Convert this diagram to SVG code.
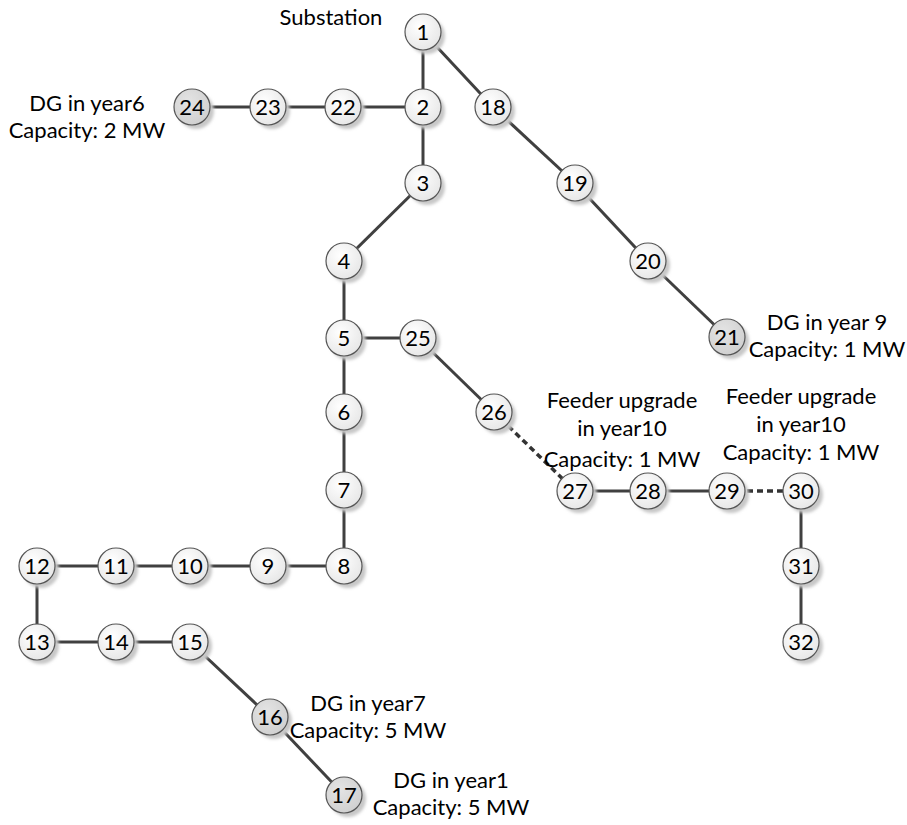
<svg xmlns="http://www.w3.org/2000/svg" width="907" height="825" viewBox="0 0 907 825">
  <defs>
    <radialGradient id="nodeFill" cx="40%" cy="35%" r="70%">
      <stop offset="0" stop-color="#ffffff"/>
      <stop offset="1" stop-color="#e6e6e6"/>
    </radialGradient>
    <radialGradient id="dgFill" cx="40%" cy="35%" r="70%">
      <stop offset="0" stop-color="#e4e4e4"/>
      <stop offset="1" stop-color="#cfcfcf"/>
    </radialGradient>
    <filter id="soft" x="-50%" y="-50%" width="200%" height="200%">
      <feGaussianBlur stdDeviation="1.6"/>
    </filter>
  </defs>
  <style>
    .edge { stroke: #404040; stroke-width: 3; fill: none; }
    .dash { stroke: #333; stroke-width: 3.5; stroke-dasharray: 6 4; }
    .shadow { fill: #c8c8c8; filter: url(#soft); }
    .node { fill: url(#nodeFill); stroke: #555; stroke-width: 1.2; }
    .dg .node { fill: url(#dgFill); }
    .num { font-family: Lato, "Liberation Sans", sans-serif; font-size: 22px; fill: #000; text-anchor: middle; }
    .lbl { font-family: Lato, "Liberation Sans", sans-serif; font-size: 22px; fill: #000; text-anchor: middle; }
  </style>

  <rect width="907" height="825" fill="#ffffff"/>

  <!-- feeder branches; dashed segments are the upgraded feeders -->
  <g id="connectors">
    <line class="edge" x1="423" y1="32" x2="423" y2="107"/>
    <line class="edge" x1="423" y1="32" x2="493" y2="107"/>
    <line class="edge" x1="493" y1="107" x2="575" y2="183"/>
    <line class="edge" x1="575" y1="183" x2="648" y2="261"/>
    <line class="edge" x1="648" y1="261" x2="727" y2="337"/>
    <line class="edge" x1="423" y1="107" x2="192" y2="107"/>
    <line class="edge" x1="423" y1="107" x2="423" y2="183"/>
    <line class="edge" x1="423" y1="183" x2="344" y2="261"/>
    <line class="edge" x1="344" y1="261" x2="344" y2="566"/>
    <line class="edge" x1="344" y1="338" x2="418" y2="338"/>
    <line class="edge" x1="418" y1="338" x2="494" y2="412"/>
    <line class="edge dash" x1="494" y1="412" x2="575" y2="491"/>
    <line class="edge" x1="575" y1="491" x2="727" y2="491"/>
    <line class="edge dash" x1="727" y1="491" x2="801" y2="491"/>
    <line class="edge" x1="801" y1="491" x2="801" y2="642"/>
    <line class="edge" x1="344" y1="566" x2="37" y2="566"/>
    <line class="edge" x1="37" y1="566" x2="37" y2="642"/>
    <line class="edge" x1="37" y1="642" x2="190" y2="642"/>
    <line class="edge" x1="190" y1="642" x2="270" y2="717"/>
    <line class="edge" x1="270" y1="717" x2="344" y2="795"/>
  </g>

  <g id="n1"><circle class="shadow" cx="427" cy="36" r="18"/><circle class="node" cx="423" cy="32" r="18"/><text class="num" x="423" y="40">1</text></g>
  <g id="n2"><circle class="shadow" cx="427" cy="111" r="18"/><circle class="node" cx="423" cy="107" r="18"/><text class="num" x="423" y="115">2</text></g>
  <g id="n3"><circle class="shadow" cx="427" cy="187" r="18"/><circle class="node" cx="423" cy="183" r="18"/><text class="num" x="423" y="191">3</text></g>
  <g id="n4"><circle class="shadow" cx="348" cy="265" r="18"/><circle class="node" cx="344" cy="261" r="18"/><text class="num" x="344" y="269">4</text></g>
  <g id="n5"><circle class="shadow" cx="348" cy="342" r="18"/><circle class="node" cx="344" cy="338" r="18"/><text class="num" x="344" y="346">5</text></g>
  <g id="n6"><circle class="shadow" cx="348" cy="416" r="18"/><circle class="node" cx="344" cy="412" r="18"/><text class="num" x="344" y="420">6</text></g>
  <g id="n7"><circle class="shadow" cx="348" cy="494" r="18"/><circle class="node" cx="344" cy="490" r="18"/><text class="num" x="344" y="498">7</text></g>
  <g id="n8"><circle class="shadow" cx="348" cy="570" r="18"/><circle class="node" cx="344" cy="566" r="18"/><text class="num" x="344" y="574">8</text></g>
  <g id="n9"><circle class="shadow" cx="272" cy="570" r="18"/><circle class="node" cx="268" cy="566" r="18"/><text class="num" x="268" y="574">9</text></g>
  <g id="n10"><circle class="shadow" cx="194" cy="570" r="18"/><circle class="node" cx="190" cy="566" r="18"/><text class="num" x="190" y="574">10</text></g>
  <g id="n11"><circle class="shadow" cx="120" cy="570" r="18"/><circle class="node" cx="116" cy="566" r="18"/><text class="num" x="116" y="574">11</text></g>
  <g id="n12"><circle class="shadow" cx="41" cy="570" r="18"/><circle class="node" cx="37" cy="566" r="18"/><text class="num" x="37" y="574">12</text></g>
  <g id="n13"><circle class="shadow" cx="41" cy="646" r="18"/><circle class="node" cx="37" cy="642" r="18"/><text class="num" x="37" y="650">13</text></g>
  <g id="n14"><circle class="shadow" cx="120" cy="646" r="18"/><circle class="node" cx="116" cy="642" r="18"/><text class="num" x="116" y="650">14</text></g>
  <g id="n15"><circle class="shadow" cx="194" cy="646" r="18"/><circle class="node" cx="190" cy="642" r="18"/><text class="num" x="190" y="650">15</text></g>
  <g id="n16" class="dg"><circle class="shadow" cx="274" cy="721" r="18"/><circle class="node" cx="270" cy="717" r="18"/><text class="num" x="270" y="725">16</text></g>
  <g id="n17" class="dg"><circle class="shadow" cx="348" cy="799" r="18"/><circle class="node" cx="344" cy="795" r="18"/><text class="num" x="344" y="803">17</text></g>
  <g id="n18"><circle class="shadow" cx="497" cy="111" r="18"/><circle class="node" cx="493" cy="107" r="18"/><text class="num" x="493" y="115">18</text></g>
  <g id="n19"><circle class="shadow" cx="579" cy="187" r="18"/><circle class="node" cx="575" cy="183" r="18"/><text class="num" x="575" y="191">19</text></g>
  <g id="n20"><circle class="shadow" cx="652" cy="265" r="18"/><circle class="node" cx="648" cy="261" r="18"/><text class="num" x="648" y="269">20</text></g>
  <g id="n21" class="dg"><circle class="shadow" cx="731" cy="341" r="18"/><circle class="node" cx="727" cy="337" r="18"/><text class="num" x="727" y="345">21</text></g>
  <g id="n22"><circle class="shadow" cx="347" cy="111" r="18"/><circle class="node" cx="343" cy="107" r="18"/><text class="num" x="343" y="115">22</text></g>
  <g id="n23"><circle class="shadow" cx="272" cy="111" r="18"/><circle class="node" cx="268" cy="107" r="18"/><text class="num" x="268" y="115">23</text></g>
  <g id="n24" class="dg"><circle class="shadow" cx="196" cy="111" r="18"/><circle class="node" cx="192" cy="107" r="18"/><text class="num" x="192" y="115">24</text></g>
  <g id="n25"><circle class="shadow" cx="422" cy="342" r="18"/><circle class="node" cx="418" cy="338" r="18"/><text class="num" x="418" y="346">25</text></g>
  <g id="n26"><circle class="shadow" cx="498" cy="416" r="18"/><circle class="node" cx="494" cy="412" r="18"/><text class="num" x="494" y="420">26</text></g>
  <g id="n27"><circle class="shadow" cx="579" cy="495" r="18"/><circle class="node" cx="575" cy="491" r="18"/><text class="num" x="575" y="499">27</text></g>
  <g id="n28"><circle class="shadow" cx="652" cy="495" r="18"/><circle class="node" cx="648" cy="491" r="18"/><text class="num" x="648" y="499">28</text></g>
  <g id="n29"><circle class="shadow" cx="731" cy="495" r="18"/><circle class="node" cx="727" cy="491" r="18"/><text class="num" x="727" y="499">29</text></g>
  <g id="n30"><circle class="shadow" cx="805" cy="495" r="18"/><circle class="node" cx="801" cy="491" r="18"/><text class="num" x="801" y="499">30</text></g>
  <g id="n31"><circle class="shadow" cx="805" cy="570" r="18"/><circle class="node" cx="801" cy="566" r="18"/><text class="num" x="801" y="574">31</text></g>
  <g id="n32"><circle class="shadow" cx="805" cy="646" r="18"/><circle class="node" cx="801" cy="642" r="18"/><text class="num" x="801" y="650">32</text></g>

  <g id="labels">
    <text class="lbl" x="331" y="25">Substation</text>
    <text class="lbl" x="87" y="111">DG in year6</text>
    <text class="lbl" x="87" y="138">Capacity: 2 MW</text>
    <text class="lbl" x="827" y="330">DG in year 9</text>
    <text class="lbl" x="827" y="357">Capacity: 1 MW</text>
    <text class="lbl" x="622" y="408">Feeder upgrade</text>
    <text class="lbl" x="622" y="436">in year10</text>
    <text class="lbl" x="622" y="467">Capacity: 1 MW</text>
    <text class="lbl" x="801" y="404">Feeder upgrade</text>
    <text class="lbl" x="801" y="432">in year10</text>
    <text class="lbl" x="801" y="460">Capacity: 1 MW</text>
    <text class="lbl" x="368" y="711">DG in year7</text>
    <text class="lbl" x="368" y="738">Capacity: 5 MW</text>
    <text class="lbl" x="451" y="788">DG in year1</text>
    <text class="lbl" x="451" y="815">Capacity: 5 MW</text>
  </g>
</svg>
